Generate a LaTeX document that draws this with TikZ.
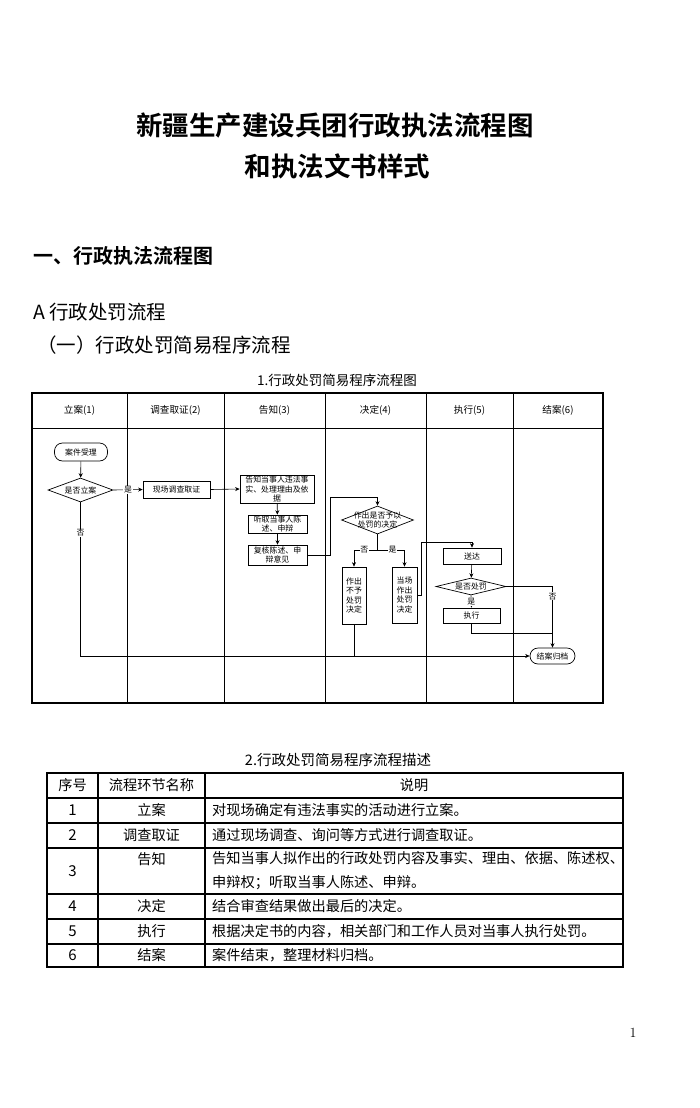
\documentclass[tikz,border=0pt]{standalone}
\usepackage{fontspec}
\newfontfamily\cjk{Noto Sans CJK SC}
\newfontfamily\cjkb{Noto Sans CJK SC Bold}
\usetikzlibrary{arrows.meta,shapes.geometric,calc}
\tikzset{
  fc/.style={font=\cjk\fontsize{7.9}{9.2}\selectfont},
  proc/.style={draw, line width=0.7pt, rectangle, inner sep=0pt, align=center, fc},
  dec/.style={draw, line width=0.7pt, diamond, inner sep=0pt},
  term/.style={draw, line width=0.7pt, rounded corners=8pt, inner sep=0pt, fc},
  conn/.style={line width=0.6pt, -{Stealth[length=4.5pt,width=4pt]}},
  lnk/.style={line width=0.6pt},
  lab/.style={fc, fill=white, inner sep=0.6pt},
  hdr/.style={font=\cjk\fontsize{9.6}{11}\selectfont},
  lane/.style={line width=0.9pt},
  tbl/.style={line width=1.3pt},
  tt/.style={font=\cjk\fontsize{14.2}{24}\selectfont, inner sep=0pt},
  tn/.style={font=\cjk\fontsize{15}{18}\selectfont, inner sep=0pt}
}
\begin{document}
\begin{tikzpicture}[x=1pt,y=-1pt]
\useasboundingbox (0,0) rectangle (700,1108);
\fill[white] (0,0) rectangle (700,1108);

% ---------- titles ----------
\node[font=\cjkb\fontsize{26.5}{30}\selectfont] (t1) at (335,126) {新疆生产建设兵团行政执法流程图};
\node[font=\cjkb\fontsize{26.5}{30}\selectfont] (t2) at (337.5,166) {和执法文书样式};
\node[anchor=west, inner sep=0pt, font=\cjkb\fontsize{20}{24}\selectfont] (h1) at (33,256) {一、行政执法流程图};
\node[anchor=west, inner sep=0pt, font=\cjk\fontsize{19.5}{24}\selectfont] (h2) at (33,312) {A 行政处罚流程};
\node[anchor=west, inner sep=0pt, font=\cjk\fontsize{19.5}{24}\selectfont] (h3) at (37,345) {（一）行政处罚简易程序流程};
\node[font=\cjk\fontsize{13.5}{16}\selectfont] (cap1) at (337,380) {1.行政处罚简易程序流程图};

% ---------- flowchart frame ----------
\draw[line width=1.2pt] (32,393) rectangle (603,703);
\foreach \x in {127,224,325,426,513} \draw[lane] (\x,393) -- (\x,703);
\draw[lane] (32,428) -- (603,428);
\node[hdr] (l1) at (79.5,410) {立案(1)};
\node[hdr] (l2) at (175.5,410) {调查取证(2)};
\node[hdr] (l3) at (274.5,410) {告知(3)};
\node[hdr] (l4) at (375.5,410) {决定(4)};
\node[hdr] (l5) at (469.5,410) {执行(5)};
\node[hdr] (l6) at (558,410) {结案(6)};

% ---------- flowchart nodes ----------
\node[term, minimum width=53pt, minimum height=18pt] (n1) at (81,452) {案件受理};
\node[dec, minimum width=65pt, minimum height=24pt, label={[fc]center:是否立案}] (d1) at (80.5,490) {};
\node[proc, minimum width=67pt, minimum height=17pt] (b1) at (176.5,489.5) {现场调查取证};
\node[proc, minimum width=74pt, minimum height=28pt] (b2) at (277,489) {告知当事人违法事\\实、处理理由及依\\据};
\node[proc, minimum width=59pt, minimum height=18pt] (b3) at (277.5,524) {听取当事人陈\\述、申辩};
\node[proc, minimum width=59pt, minimum height=20pt] (b4) at (277.5,555) {复核陈述、申\\辩意见};
\node[dec, minimum width=72pt, minimum height=28pt, label={[fc,align=center]center:作出是否予以\\处罚的决定}] (d2) at (377.5,520) {};
\node[proc, minimum width=24pt, minimum height=57pt, font=\cjk\fontsize{7.9}{9.6}\selectfont] (b5) at (354,595.5) {作出\\不予\\处罚\\决定};
\node[proc, minimum width=25pt, minimum height=56pt, font=\cjk\fontsize{7.9}{9.6}\selectfont] (b6) at (404.5,595) {当场\\作出\\处罚\\决定};
\node[proc, minimum width=58pt, minimum height=16pt] (b7) at (472,556) {送达};
\node[dec, minimum width=70pt, minimum height=17pt, label={[fc]center:是否处罚}] (d3) at (471,586.5) {};
\node[proc, minimum width=57pt, minimum height=15pt] (b8) at (471.5,615.5) {执行};
\node[term, minimum width=45pt, minimum height=16pt] (e) at (552.5,656) {结案归档};

\coordinate (c1) at (330,497);
\coordinate (c2) at (377.5,550);
\coordinate (c3) at (421,542);
\coordinate (c4) at (553,633);

% ---------- connectors ----------
\draw[conn] (n1) -- (d1);
\draw[conn] (d1.east) -- node[lab] {是} (b1.west);
\draw[conn] (b1.east) -- (b2.west);
\draw[conn] (b2) -- (b3);
\draw[conn] (b3) -- (b4);
\draw[lnk] (b4.east) -| (c1);
\draw[conn] (c1) -| (d2.north);
\draw[lnk] (d2.south) -- (c2);
\draw[conn] (c2) -| node[lab, pos=0.28] {否} (b5.north);
\draw[conn] (c2) -| node[lab, pos=0.28] {是} (b6.north);
\draw[lnk] (b6.east) -| (c3);
\draw[conn] (c3) -| (b7.north);
\draw[conn] (b7) -- (d3);
\draw[conn] (d3.south) -- node[lab] {是} (b8.north);
\draw[conn] (d3.east) -| node[lab, pos=0.58] {否} (e.north);
\draw[lnk] (b8.south) |- (c4);
\draw[conn] (d1.south) |- node[lab, pos=0.1] {否} (e.west);
\draw[lnk] (b5.south) -- (b5.south |- e.west);

% ---------- table ----------
\node[font=\cjk\fontsize{14.5}{18}\selectfont] (cap2) at (338,760) {2.行政处罚简易程序流程描述};
\draw[tbl] (47,773) rectangle (623,967);
\foreach \y in {798,823,848,894,919,944} \draw[tbl] (47,\y) -- (623,\y);
\draw[tbl] (98,773) -- (98,967);
\draw[tbl] (205,773) -- (205,967);

\node[tt] (th1) at (72.5,785.5) {序号};
\node[tt] (th2) at (151.5,785.5) {流程环节名称};
\node[tt] (th3) at (414,785.5) {说明};

\node[tn] (r1a) at (72.5,810.5) {1};
\node[tt] (r1b) at (151.5,810.5) {立案};
\node[tt, anchor=west] (r1c) at (212,810.5) {对现场确定有违法事实的活动进行立案。};

\node[tn] (r2a) at (72.5,835.5) {2};
\node[tt] (r2b) at (151.5,835.5) {调查取证};
\node[tt, anchor=west] (r2c) at (212,835.5) {通过现场调查、询问等方式进行调查取证。};

\node[tn] (r3a) at (72.5,871) {3};
\node[tt] (r3b) at (151.5,859) {告知};
\node[tt, anchor=west, align=left] (r3c) at (212,871) {告知当事人拟作出的行政处罚内容及事实、理由、依据、陈述权、\\申辩权；听取当事人陈述、申辩。};

\node[tn] (r4a) at (72.5,906.5) {4};
\node[tt] (r4b) at (151.5,906.5) {决定};
\node[tt, anchor=west] (r4c) at (212,906.5) {结合审查结果做出最后的决定。};

\node[tn] (r5a) at (72.5,931.5) {5};
\node[tt] (r5b) at (151.5,931.5) {执行};
\node[tt, anchor=west] (r5c) at (212,931.5) {根据决定书的内容，相关部门和工作人员对当事人执行处罚。};

\node[tn] (r6a) at (72.5,955.5) {6};
\node[tt] (r6b) at (151.5,955.5) {结案};
\node[tt, anchor=west] (r6c) at (212,955.5) {案件结束，整理材料归档。};

% ---------- page number ----------
\node[font=\fontsize{14}{16}\selectfont] (pg) at (633,1033) {1};
\end{tikzpicture}
\end{document}
